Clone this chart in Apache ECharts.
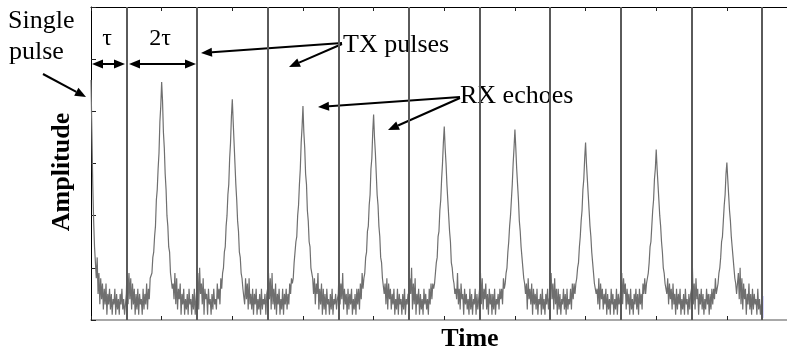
<!DOCTYPE html>
<html>
<head>
<meta charset="utf-8">
<script src="https://cdn.jsdelivr.net/npm/echarts@6/dist/echarts.min.js"></script>
<style>html,body{margin:0;padding:0;background:#fff;}#c{width:787px;height:354px;}</style>
</head>
<body>
<div id="c"></div>
<script>
// ---- data (amplitude in axis units 0..6, time in units of 2τ; one sample every sampleStep) ----
const sampleStep = 0.0125;
// single pulse at t = 0 decaying into noise, up to the first TX pulse
const leadSegment = [4.6, 3.6, 2.6, 1.9, 1.4, 1.1, 0.8, 1.2, 0.5, 0.9, 0.3, 0.8, 0.4, 0.7, 0.2, 0.6, 0.3, 0.7, 0.1, 0.5,
  0.3, 0.6, 0.2, 0.5, 0.1, 0.4, 0.3, 0.6, 0.1, 0.5, 0.2, 0.4, 0.1, 0.5, 0.3, 0.6, 0.2, 0.4, 0.1, 0.3];
// each period: noise after TX pulse | RX echo | noise before next TX pulse
const echo1 = [.5,1.1,.3,.9,.4,.8,.2,.7,.3,.6,.1,.5,.2,.6,.1,.5,.3,.4,.1,.6,.2,.5,.3,.7,.2,.6,.4,.8,
  0.8,0.9,1.2,1.3,1.6,1.8,2.3,2.5,2.9,3.2,3.8,4.1,4.56,4.2,3.6,3.3,2.8,2.5,2.0,1.8,1.4,1.3,0.9,0.9,0.6,
  .7,.4,.9,.3,.8,.2,.6,.4,.7,.1,.5,.3,.6,.1,.4,.2,.5,.1,.6,.3,.4,.1,.5,.2,.6,.1,.4];
const echo2 = [.4,.9,.2,1.0,.5,.7,.3,.8,.1,.6,.4,.5,.1,.6,.3,.4,.1,.5,.2,.6,.3,.4,.2,.7,.4,.6,.3,.8,
  0.6,0.9,1.0,1.3,1.4,1.8,2.0,2.4,2.6,3.1,3.4,3.9,4.23,3.8,3.4,3.0,2.6,2.3,1.9,1.7,1.3,1.2,0.9,0.8,0.6,
  .6,.3,.8,.4,.7,.2,.8,.3,.5,.2,.6,.1,.5,.3,.6,.1,.4,.2,.5,.1,.6,.2,.4,.3,.5,.1,.5];
const echo3 = [.6,.9,.4,.8,.2,.9,.3,.6,.2,.7,.1,.5,.3,.6,.1,.4,.2,.6,.1,.5,.3,.6,.2,.5,.3,.7,.5,.8,
  0.7,0.8,1.1,1.1,1.5,1.6,2.0,2.2,2.6,2.9,3.4,3.7,4.10,3.6,3.3,2.8,2.6,2.1,1.9,1.5,1.4,1.0,0.9,0.8,0.5,
  .8,.3,.7,.5,.9,.2,.6,.3,.7,.1,.6,.2,.5,.1,.6,.3,.4,.1,.5,.2,.6,.1,.4,.3,.5,.2,.4];
const echo4 = [.5,1.0,.3,.7,.4,.9,.2,.6,.3,.5,.1,.6,.2,.5,.3,.6,.1,.4,.2,.5,.1,.6,.3,.6,.2,.7,.4,.9,
  0.6,0.8,0.9,1.2,1.3,1.7,1.8,2.2,2.4,2.9,3.1,3.6,3.94,3.5,3.2,2.8,2.4,2.2,1.8,1.6,1.2,1.1,0.8,0.8,0.5,
  .7,.3,.8,.2,.7,.4,.6,.2,.5,.3,.6,.1,.4,.2,.6,.1,.5,.3,.4,.1,.5,.2,.6,.1,.4,.3,.5];
const echo5 = [.4,.8,.5,1.0,.2,.7,.3,.8,.1,.5,.3,.6,.1,.5,.2,.4,.1,.6,.3,.5,.2,.4,.1,.6,.3,.7,.4,.7,
  0.6,0.7,0.9,1.1,1.2,1.6,1.7,2.1,2.3,2.7,3.0,3.4,3.71,3.3,3.0,2.6,2.3,2.0,1.7,1.5,1.1,1.0,0.8,0.7,0.5,
  .6,.4,.9,.3,.6,.2,.7,.4,.5,.1,.6,.3,.5,.2,.4,.1,.6,.2,.5,.1,.4,.3,.6,.1,.5,.2,.4];
const echo6 = [.6,.9,.3,.8,.2,.6,.4,.7,.2,.5,.1,.6,.3,.5,.1,.5,.2,.6,.1,.4,.3,.5,.2,.6,.4,.6,.3,.8,
  0.6,0.7,0.9,1.0,1.3,1.5,1.8,2.0,2.3,2.6,3.0,3.3,3.65,3.3,2.9,2.6,2.3,1.9,1.7,1.4,1.2,1.0,0.8,0.7,0.5,
  .7,.2,.8,.4,.6,.3,.7,.1,.6,.3,.5,.2,.6,.1,.4,.3,.5,.1,.6,.2,.4,.1,.5,.3,.6,.2,.4];
const echo7 = [.5,.9,.4,.7,.2,.8,.3,.6,.1,.6,.2,.5,.1,.4,.3,.6,.2,.5,.1,.6,.2,.4,.3,.6,.2,.7,.4,.7,
  0.5,0.7,0.8,1.0,1.1,1.4,1.6,1.9,2.1,2.5,2.7,3.1,3.40,3.0,2.7,2.4,2.1,1.8,1.6,1.3,1.1,0.9,0.7,0.6,0.5,
  .6,.3,.8,.2,.7,.4,.6,.2,.5,.3,.6,.1,.5,.2,.4,.1,.6,.3,.5,.1,.4,.2,.6,.1,.5,.3,.4];
const echo8 = [.4,.9,.3,.8,.5,.7,.2,.6,.3,.5,.1,.6,.2,.4,.1,.5,.3,.6,.2,.5,.1,.6,.3,.5,.2,.7,.5,.8,
  0.5,0.7,0.8,0.9,1.1,1.4,1.5,1.8,2.1,2.3,2.7,2.9,3.27,2.9,2.6,2.3,2.0,1.8,1.5,1.3,1.0,0.9,0.7,0.6,0.5,
  .8,.3,.7,.4,.6,.2,.7,.3,.5,.1,.6,.2,.5,.3,.6,.1,.4,.2,.5,.1,.6,.3,.4,.1,.5,.2,.5];
const echo9 = [.6,1.0,.3,.7,.2,.8,.4,.6,.1,.5,.3,.6,.2,.5,.1,.4,.2,.6,.3,.5,.1,.5,.2,.6,.3,.6,.4,.8,
  0.5,0.6,0.7,0.9,1.0,1.2,1.5,1.6,1.9,2.2,2.4,2.8,3.02,2.7,2.4,2.1,1.9,1.6,1.4,1.2,1.0,0.8,0.7,0.5,0.5,
  .9,.4,1.0,.3,.8,.2,.7,.4,.6,.1,.5,.3,.7,.2,.5,.1,.6,.2,.5,.3,.4,.1,.6,.2,.4,.1,.3];
const tailSegment = [0.3];
const txTimes = [0.5, 1.5, 2.5, 3.5, 4.5, 5.5, 6.5, 7.5, 8.5, 9.5];
const endMarkerTime = 9.5;
const endMarkerValues = [0.04, 0.46];
const axisMax = { x: 9.851, y: 6 };

// ---- build ----
const samples = [].concat(leadSegment, echo1, echo2, echo3, echo4, echo5, echo6, echo7, echo8, echo9, tailSegment);
const signal = samples.map((v, j) => [j * sampleStep, v]);
const endMarker = endMarkerValues.map(v => [endMarkerTime, v]);

const FONT = '"Liberation Serif", "Times New Roman", serif';

function arrow(x1, y1, x2, y2, head) {
  const a = Math.atan2(y2 - y1, x2 - x1);
  const L = 11, W = 4.5;
  const bx = x2 - L * Math.cos(a), by = y2 - L * Math.sin(a);
  const els = [];
  const p = (sx, sy, ex, ey) => ({type: 'line', silent: true, shape: {x1: sx, y1: sy, x2: ex, y2: ey}, style: {stroke: '#000', lineWidth: 2}});
  const tri = (tx, ty, ang) => {
    const cx = tx - L * Math.cos(ang), cy = ty - L * Math.sin(ang);
    return {type: 'polygon', silent: true, shape: {points: [[tx, ty], [cx - W * Math.sin(ang), cy + W * Math.cos(ang)], [cx + W * Math.sin(ang), cy - W * Math.cos(ang)]]}, style: {fill: '#000'}};
  };
  if (head === 'both') {
    const sx = x1 + L * Math.cos(a), sy = y1 + L * Math.sin(a);
    els.push(p(sx, sy, bx, by));
    els.push(tri(x2, y2, a));
    els.push(tri(x1, y1, a + Math.PI));
  } else {
    els.push(p(x1, y1, bx, by));
    els.push(tri(x2, y2, a));
  }
  return els;
}

function txt(text, x, y, size, bold, align) {
  return {type: 'text', silent: true, x: x, y: y, style: {text: text, font: (bold ? 'bold ' : '') + size + 'px ' + FONT, fill: '#000', textAlign: align || 'left', textVerticalAlign: 'middle'}};
}

const graphics = [].concat(
  [txt('Single', 8, 21, 26, false), txt('pulse', 9, 52, 26, false)],
  [txt('τ', 107, 39, 24, false, 'center'), txt('2τ', 160, 39, 24, false, 'center')],
  arrow(92, 64, 125, 64, 'both'),
  arrow(129, 64, 196, 64, 'both'),
  arrow(43, 74, 86, 97),
  [txt('TX pulses', 343, 45, 26, false)],
  arrow(342, 43, 201, 53),
  arrow(342, 44, 289, 67),
  [txt('RX echoes', 460, 96, 26, false)],
  arrow(460, 97, 318, 107),
  arrow(460, 98, 388, 130),
  [txt('Time', 470, 339, 26, true, 'center')],
  [{type: 'text', silent: true, x: 62, y: 172, rotation: Math.PI / 2, style: {text: 'Amplitude', font: 'bold 26px ' + FONT, fill: '#000', textAlign: 'center', textVerticalAlign: 'middle'}}]
);

const chart = echarts.init(document.getElementById('c'), null, {renderer: 'canvas'});
const xCommon = {
  type: 'value', min: 0, max: axisMax.x, interval: 1,
  axisLabel: {show: false}, splitLine: {show: false},
  axisTick: {show: true, inside: true, length: 4, lineStyle: {color: '#222', width: 1}}
};
chart.setOption({
  animation: false,
  backgroundColor: '#fff',
  grid: {left: 91, right: 0, top: 7, bottom: 34, containLabel: false},
  xAxis: [
    Object.assign({}, xCommon, {position: 'bottom', axisLine: {show: true, onZero: false, lineStyle: {color: '#8c8c8c', width: 1.5}}}),
    Object.assign({}, xCommon, {position: 'top', axisLine: {show: true, onZero: false, lineStyle: {color: '#000', width: 1}}})
  ],
  yAxis: [{
    type: 'value', min: 0, max: axisMax.y, interval: 1,
    axisLine: {show: true, onZero: false, lineStyle: {color: '#000', width: 1}},
    axisTick: {show: true, inside: true, length: 5, lineStyle: {color: '#222'}},
    axisLabel: {show: false}, splitLine: {show: false}
  }],
  series: [
    {
      type: 'line', data: signal, showSymbol: false, symbol: 'none', sampling: false,
      lineStyle: {color: '#6f6f6f', width: 1.2}, silent: true, clip: true,
      markLine: {
        silent: true, symbol: ['none', 'none'], label: {show: false},
        lineStyle: {color: '#5a5a5a', width: 2, type: 'solid'},
        data: txTimes.map(t => ({xAxis: t}))
      }
    },
    {
      type: 'line', data: endMarker, showSymbol: false, symbol: 'none',
      lineStyle: {color: '#3a3aff', width: 2}, silent: true
    }
  ],
  graphic: graphics
});
</script>
</body>
</html>
